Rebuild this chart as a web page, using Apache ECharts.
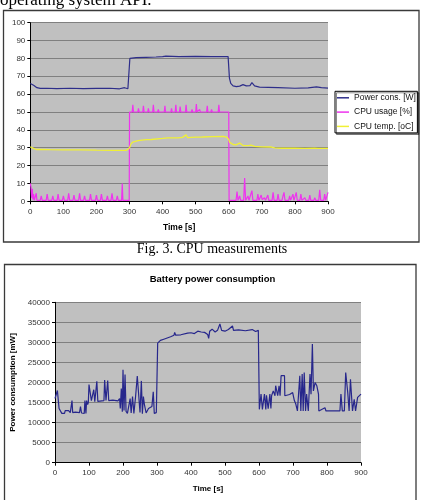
<!DOCTYPE html>
<html>
<head>
<meta charset="utf-8">
<script src="https://cdn.jsdelivr.net/npm/echarts@6/dist/echarts.min.js"></script>
<style>html,body{margin:0;padding:0;background:#fff;}#c{width:425px;height:500px;}</style>
</head>
<body>
<div id="c"></div>
<script>
// ---- Data (time in s, value) ----
const powerW = [[0,66],[5,65.5],[10,65],[15,64.2],[20,63.6],[30,63.2],[50,63.3],[80,63.1],[120,63.3],[160,63.1],[200,63.2],[240,63.3],[270,63],[285,63.6],[295,63],[300,63],[301,80],[320,80.4],[350,80.6],[380,80.8],[400,81],[410,81.3],[415,80.8],[450,81],[500,81.1],[550,81],[598,81],[600,81],[602,69],[606,66],[613,64.6],[623,64.2],[633,64.5],[643,65.3],[653,64.6],[664,64.8],[670,66.4],[678,64.6],[693,63.9],[720,63.8],[749,63.7],[800,63.3],[840,63.5],[865,64.1],[880,63.6],[900,63.4]];

const cpuUsage = [[0,10],[2,8],[4,2],[6,7],[8,1],[10,4],[12,0.5],[18,4.5],[20,0.5],[30,0.5],[33,3],[36,0.5],[48,0.5],[51,4],[54,0.5],[65,0.5],[68,3],[71,0.5],[81,0.5],[84,4],[87,0.5],[97,0.5],[100,3],[103,0.5],[113,0.5],[116,4.5],[119,0.5],[129,0.5],[132,3.5],[135,0.5],[146,0.5],[149,4.5],[152,0.5],[161,0.5],[164,3],[167,0.5],[179,0.5],[182,4],[185,0.5],[197,0.5],[200,3.5],[203,0.5],[212,0.5],[215,4],[218,0.5],[230,0.5],[233,3],[236,0.5],[244,0.5],[247,4.5],[250,0.5],[260,0.5],[263,3],[266,0.5],[276,0.5],[278,10],[280,0.5],[299,0.5],
[300,50],[308,50],[310,54],[312,50],[325,50],[327,52],[329,50],[340,50],[342,53.5],[344,50],[355,50],[357,52],[359,50],[370,50],[372,54],[374,50],[385,50],[387,51.5],[389,50],[405,50],[407,53.5],[409,50],[425,50],[427,52],[429,50],[438,50],[440,54],[442,50],[451,50],[453,53],[455,50],[469,50],[471,54],[473,50],[487,50],[489,51.5],[491,50],[500,50],[502,54.5],[504,50],[510,50],[512,51.5],[514,50],[533,50],[535,53.5],[537,50],[546,50],[548,51.5],[550,50],[568,50],[570,54],[572,50],[600,50],
[601,0.5],[622,0.5],[625,5.5],[628,0.5],[630,0.5],[633,3],[636,0.5],[645,0.5],[648,13],[651,0.5],[655,0.5],[658,3],[661,0.5],[667,0.5],[670,6],[673,0.5],[685,0.5],[688,4],[691,0.5],[695,0.5],[698,3.5],[701,1],[705,0.5],[708,2],[711,0.5],[715,1],[718,3.5],[721,0.5],[731,0.5],[734,5],[737,0.5],[746,0.5],[749,4],[752,0.5],[761,0.5],[764,3],[767,5],[770,0.5],[781,0.5],[784,3],[787,0.5],[791,1],[794,4],[797,0.5],[801,0.5],[804,5],[807,0.5],[815,0.5],[818,4],[821,0.5],[827,0.5],[830,2],[833,0.5],[842,0.5],[845,3.5],[848,0.5],[857,0.5],[860,2],[863,0.5],[872,0.5],[875,6.5],[878,0.5],[887,0.5],[890,4],[893,0.5],[897,0.5],[900,5]];

const cpuTemp = [[0,30.5],[5,30],[10,29.6],[18,29],[30,29],[60,28.9],[100,28.8],[150,28.8],[200,28.6],[250,28.5],[290,28.5],[296,28.3],[300,30],[304,32],[310,33.2],[326,34],[350,34.5],[366,34.6],[400,35.2],[416,35.5],[446,35.5],[460,35.8],[466,35.6],[471,37.2],[476,35.6],[481,35.3],[500,35.9],[520,36],[550,36.2],[584,36.3],[590,36.5],[595,35.8],[600,34.5],[603,33],[613,31.8],[622,31.6],[628,31.8],[633,32.6],[638,31.6],[643,31.2],[660,31.2],[667,31.5],[670,31],[678,30.7],[700,30.5],[729,30.4],[734,30.9],[739,29.9],[760,29.7],[800,29.7],[830,29.6],[860,29.7],[865,30.3],[870,29.6],[900,29.6]];

const batteryMW = [[0,16000],[5,16200],[7,18000],[10,18200],[12,13500],[16,13200],[20,12300],[28,12300],[30,13000],[35,12600],[40,13000],[45,12500],[48,12500],[50,15500],[52,12500],[60,12600],[65,12300],[72,12500],[75,14000],[78,12400],[86,12300],[88,15500],[91,12300],[93,15500],[96,14500],[98,15000],[100,19500],[104,19600],[107,15500],[112,15300],[114,18200],[117,15200],[121,15300],[123,20300],[126,15300],[144,15500],[146,20600],[150,15500],[153,15500],[155,20500],[158,15500],[170,15600],[185,15400],[190,16000],[192,13500],[195,18500],[198,12700],[200,23200],[203,13000],[206,22000],[209,12800],[213,12300],[218,12500],[221,16000],[224,12400],[228,16500],[232,12300],[237,16500],[240,16500],[242,21600],[247,21500],[250,12500],[254,20400],[257,12200],[260,16500],[263,14500],[268,12400],[275,13500],[285,14000],[289,17700],[292,12300],[298,12500],[300,12500],[302,29800],[310,30500],[320,30800],[330,31100],[340,31400],[350,31800],[352,32500],[355,31800],[370,31900],[390,32300],[400,32400],[410,32200],[420,32800],[430,32600],[440,32500],[449,32000],[452,31000],[455,32800],[462,33300],[471,32600],[478,33000],[485,34600],[490,33000],[500,32800],[510,33200],[522,34100],[525,33000],[540,33100],[560,32900],[580,33200],[590,32700],[598,33000],[600,33000],[601,13300],[606,17100],[610,13300],[616,17100],[620,13300],[622,16800],[627,13500],[632,17100],[635,13500],[637,16700],[642,17900],[647,16700],[649,19200],[655,16700],[659,19200],[662,16700],[665,21700],[675,21700],[676,16700],[690,17000],[699,17500],[704,15500],[708,14700],[713,12900],[718,12900],[720,21700],[723,12900],[727,22100],[730,12900],[733,22500],[737,12900],[740,17100],[745,12900],[750,22100],[753,17100],[757,29600],[760,17900],[765,20000],[770,19200],[775,17100],[776,12900],[794,13700],[797,12900],[838,12900],[841,17100],[845,12900],[851,12900],[855,22500],[861,17500],[865,12900],[869,20800],[875,12900],[880,15800],[884,12900],[890,16300],[895,16700],[900,17100]];

const seriesNames = ['Power cons. [W]', 'CPU usage [%]', 'CPU temp. [oC]'];
const topText = 'operating system API.';
const captionText = 'Fig. 3. CPU measurements';
const batteryTitle = 'Battery power consumption';

const chart = echarts.init(document.getElementById('c'), null, {renderer: 'canvas'});
const axisLbl = {fontSize: 8, color: '#333', fontFamily: 'Liberation Sans', formatter: function (v) { return String(v); }};
const option = {
  animation: false,
  backgroundColor: '#ffffff',
  textStyle: {fontFamily: 'Liberation Sans'},
  title: {
    text: batteryTitle, left: 'center', top: 274, padding: 0,
    textStyle: {fontSize: 9.5, fontWeight: 'bold', color: '#000', fontFamily: 'Liberation Sans'}
  },
  legend: {
    data: seriesNames, orient: 'vertical', left: 335, top: 91.3,
    padding: [1.5, 1.5, 1.5, 2], itemGap: 4.3, itemWidth: 12, itemHeight: 1.5, icon: 'rect',
    backgroundColor: '#fff', borderColor: '#000', borderWidth: 1,
    shadowColor: 'rgba(0,0,0,0.45)', shadowBlur: 0.5, shadowOffsetX: 1.5, shadowOffsetY: 1.5,
    textStyle: {fontSize: 8.5, color: '#111', lineHeight: 10, fontFamily: 'Liberation Sans'}
  },
  grid: [
    {left: 30.3, top: 22.7, width: 297.7, height: 178.6, show: true, backgroundColor: '#c0c0c0', borderWidth: 0},
    {left: 55, top: 302.3, width: 306, height: 160.4, show: true, backgroundColor: '#c0c0c0', borderWidth: 0}
  ],
  xAxis: [
    {gridIndex: 0, type: 'value', min: 0, max: 900, interval: 100,
     name: 'Time [s]', nameLocation: 'middle', nameGap: 22,
     nameTextStyle: {fontWeight: 'bold', fontSize: 8.5, color: '#000'},
     axisLine: {lineStyle: {color: '#000', width: 1}}, axisTick: {length: 3, lineStyle: {color: '#000'}},
     axisLabel: Object.assign({margin: 6}, axisLbl), splitLine: {show: false}},
    {gridIndex: 1, type: 'value', min: 0, max: 900, interval: 100,
     name: 'Time [s]', nameLocation: 'middle', nameGap: 22,
     nameTextStyle: {fontWeight: 'bold', fontSize: 8, color: '#000'},
     axisLine: {lineStyle: {color: '#000', width: 1}}, axisTick: {length: 3, lineStyle: {color: '#000'}},
     axisLabel: Object.assign({margin: 6}, axisLbl), splitLine: {show: false}}
  ],
  yAxis: [
    {gridIndex: 0, type: 'value', min: 0, max: 100, interval: 10,
     axisLine: {show: true, lineStyle: {color: '#000', width: 1}}, axisTick: {show: true, length: 3, lineStyle: {color: '#000'}},
     axisLabel: Object.assign({margin: 5}, axisLbl),
     splitLine: {show: true, lineStyle: {color: '#808080', width: 1}}},
    {gridIndex: 1, type: 'value', min: 0, max: 40000, interval: 5000,
     name: 'Power consumption [mW]', nameLocation: 'middle', nameGap: 32,
     nameTextStyle: {fontWeight: 'bold', fontSize: 8, color: '#000'},
     axisLine: {show: true, lineStyle: {color: '#000', width: 1}}, axisTick: {show: true, length: 3, lineStyle: {color: '#000'}},
     axisLabel: Object.assign({margin: 5}, axisLbl),
     splitLine: {show: true, lineStyle: {color: '#808080', width: 1}}}
  ],
  series: [
    {name: seriesNames[0], type: 'line', xAxisIndex: 0, yAxisIndex: 0, data: powerW, showSymbol: false, symbol: 'none',
     itemStyle: {color: '#2e2e8a'}, lineStyle: {color: '#2e2e8a', width: 1.2}},
    {name: seriesNames[1], type: 'line', xAxisIndex: 0, yAxisIndex: 0, data: cpuUsage, showSymbol: false, symbol: 'none',
     itemStyle: {color: '#ee33ee'}, lineStyle: {color: '#ee33ee', width: 1.2}},
    {name: seriesNames[2], type: 'line', xAxisIndex: 0, yAxisIndex: 0, data: cpuTemp, showSymbol: false, symbol: 'none',
     itemStyle: {color: '#f0f035'}, lineStyle: {color: '#f0f035', width: 1.3}},
    {name: 'Battery', type: 'line', xAxisIndex: 1, yAxisIndex: 1, data: batteryMW, showSymbol: false, symbol: 'none',
     itemStyle: {color: '#27278c'}, lineStyle: {color: '#27278c', width: 1.2}}
  ],
  graphic: [
    {type: 'rect', silent: true, shape: {x: 3.5, y: 10.5, width: 415.5, height: 231.5}, style: {fill: 'none', stroke: '#3a3a3a', lineWidth: 1.3}},
    {type: 'rect', silent: true, shape: {x: 4.5, y: 264.5, width: 411.5, height: 260}, style: {fill: 'none', stroke: '#3a3a3a', lineWidth: 1.3}},
    {type: 'text', silent: true, x: 0, y: 0.5, style: {text: topText, font: '17px "Liberation Serif"', fill: '#000', align: 'left', verticalAlign: 'middle'}},
    {type: 'text', silent: true, x: 212, y: 249, style: {text: captionText, font: '14px "Liberation Serif"', fill: '#000', align: 'center', verticalAlign: 'middle'}}
  ]
};
chart.setOption(option);
</script>
</body>
</html>
